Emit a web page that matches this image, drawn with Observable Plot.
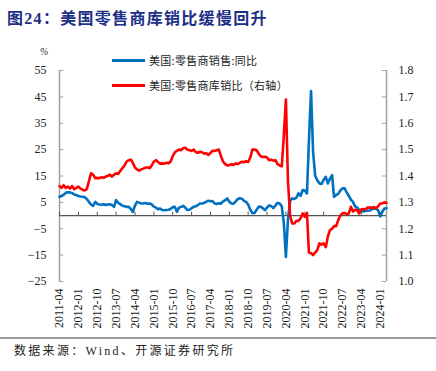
<!DOCTYPE html>
<html><head><meta charset="utf-8">
<script src="https://cdn.jsdelivr.net/npm/d3@7"></script>
<script src="https://cdn.jsdelivr.net/npm/@observablehq/plot@0.6"></script>
<style>
body{margin:0;background:#fff;}
#wrap{position:relative;width:436px;height:371px;overflow:hidden;font-family:"Noto Sans CJK SC",sans-serif;}
#title{position:absolute;left:7px;top:9px;line-height:20px;font-size:16px;font-weight:bold;color:#1c2f87;letter-spacing:1.3px;font-family:"Liberation Serif","Noto Sans CJK SC",serif;white-space:nowrap;}
#chart{position:absolute;left:0;top:30px;}
#rule{position:absolute;left:0;top:337px;width:436px;height:2px;background:#9a9a9a;}
#source{position:absolute;left:14px;top:343px;line-height:16px;font-size:12px;color:#222;letter-spacing:2.3px;font-family:"Liberation Serif","Noto Sans CJK SC",serif;white-space:nowrap;}
.leg{position:absolute;left:112px;height:16px;font-size:11px;line-height:16px;color:#222;display:flex;align-items:center;white-space:nowrap;letter-spacing:0.3px;}
.leg .sw{display:inline-block;width:33px;height:3px;margin-right:4px;}
#unit{position:absolute;left:40px;top:46px;font-size:10px;font-style:italic;color:#333;font-family:"Liberation Serif",serif;}
</style>
</head><body>
<div id="wrap">
  <div id="title">图24：美国零售商库销比缓慢回升</div>
  <div id="chart"></div>
  <div id="unit">%</div>
  <div class="leg" style="top:52px"><span class="sw" style="background:#0070C0"></span><span id="leg1"></span></div>
  <div class="leg" style="top:77px"><span class="sw" style="background:#FF0000"></span><span id="leg2"></span></div>
  <div id="rule"></div>
  <div id="source">数据来源：Wind、开源证券研究所</div>
</div>
<script>
// ---- data (monthly, starting 2011-04) ----
const startMonth = "2011-04";
const seriesNames = ["美国:零售商销售:同比", "美国:零售商库销比（右轴）"];

// 美国:零售商销售:同比 (%)
const salesYoY2011 = [7.1, 7.4, 7.9, 8.6, 8.8, 8.8, 8.5, 8.0, 7.8];
const salesYoY2012 = [7.4, 7.2, 7.1, 7.0, 6.3, 5.2, 4.2, 3.7, 5.2, 4.4, 4.2, 4.1];
const salesYoY2013 = [4.3, 4.0, 4.2, 4.3, 4.0, 3.3, 5.9, 4.8, 4.3, 3.7, 3.5, 3.3];
const salesYoY2014 = [3.3, 2.4, 1.4, 3.8, 5.2, 4.9, 4.6, 4.6, 4.8, 4.5, 4.6, 4.2];
const salesYoY2015 = [3.4, 3.0, 2.4, 2.7, 2.1, 2.0, 2.1, 2.2, 2.5, 3.2, 3.3, 1.4];
const salesYoY2016 = [3.0, 3.3, 3.7, 3.0, 2.1, 2.2, 2.8, 3.3, 3.5, 4.0, 4.6, 4.6];
const salesYoY2017 = [4.8, 5.3, 5.6, 5.4, 5.5, 4.6, 4.4, 4.7, 4.5, 5.4, 5.8, 6.5];
const salesYoY2018 = [5.2, 4.6, 4.5, 5.3, 6.2, 6.6, 6.4, 5.6, 5.2, 4.2, 2.2, 0.9];
const salesYoY2019 = [1.0, 2.2, 3.3, 3.4, 2.8, 2.1, 3.0, 3.8, 3.6, 2.8, 3.8, 4.8];
const salesYoY2020 = [4.6, 3.5, -2.5, -15.7, -1.5, 5.5, 6.5, 6.3, 6.8, 8.4, 7.5, 9.7];
const salesYoY2021 = [9.5, 8.4, 28.0, 47.2, 24.0, 15.0, 13.4, 12.2, 12.0, 13.5, 14.7, 12.2];
const salesYoY2022 = [14.0, 15.3, 7.1, 7.8, 8.2, 9.5, 10.3, 10.3, 8.8, 7.5, 6.0, 5.2];
const salesYoY2023 = [3.5, 3.0, 2.1, 2.0, 1.5, 1.8, 1.8, 1.9, 2.4, 2.7, 2.6, 2.0];
const salesYoY2024 = [-0.3, 1.5, 2.7, 2.8];

// 美国:零售商库销比 (right axis)
const isRatio2011 = [1.362, 1.355, 1.365, 1.355, 1.36, 1.352, 1.362, 1.35, 1.355];
const isRatio2012 = [1.36, 1.352, 1.348, 1.345, 1.35, 1.38, 1.41, 1.405, 1.392, 1.393, 1.392, 1.395];
const isRatio2013 = [1.393, 1.398, 1.40, 1.405, 1.398, 1.405, 1.41, 1.408, 1.42, 1.43, 1.44, 1.455];
const isRatio2014 = [1.46, 1.462, 1.45, 1.432, 1.425, 1.42, 1.425, 1.428, 1.432, 1.432, 1.43, 1.44];
const isRatio2015 = [1.455, 1.46, 1.453, 1.447, 1.448, 1.447, 1.45, 1.448, 1.455, 1.475, 1.49, 1.495];
const isRatio2016 = [1.50, 1.498, 1.505, 1.507, 1.50, 1.498, 1.495, 1.50, 1.49, 1.488, 1.492, 1.49];
const isRatio2017 = [1.485, 1.486, 1.48, 1.487, 1.496, 1.495, 1.498, 1.50, 1.475, 1.455, 1.445, 1.44];
const isRatio2018 = [1.441, 1.445, 1.442, 1.448, 1.445, 1.45, 1.454, 1.452, 1.456, 1.453, 1.47, 1.50];
const isRatio2019 = [1.50, 1.498, 1.485, 1.475, 1.472, 1.473, 1.47, 1.46, 1.462, 1.458, 1.46, 1.445];
const isRatio2020 = [1.44, 1.437, 1.55, 1.69, 1.38, 1.25, 1.22, 1.22, 1.23, 1.23, 1.24, 1.258];
const isRatio2021 = [1.245, 1.26, 1.11, 1.107, 1.10, 1.11, 1.12, 1.145, 1.14, 1.145, 1.13, 1.17];
const isRatio2022 = [1.195, 1.20, 1.21, 1.21, 1.233, 1.25, 1.258, 1.26, 1.255, 1.258, 1.283, 1.265];
const isRatio2023 = [1.272, 1.27, 1.258, 1.274, 1.275, 1.274, 1.28, 1.28, 1.28, 1.282, 1.277, 1.285];
const isRatio2024 = [1.296, 1.296, 1.30, 1.298];

// tick labels
const xTickLabels = ["2011-04","2012-01","2012-10","2013-07","2014-04","2015-01","2015-10","2016-07","2017-04","2018-01","2018-10","2019-07","2020-04","2021-01","2021-10","2022-07","2023-04","2024-01"];
const leftTicks = [-25, -15, -5, 5, 15, 25, 35, 45, 55];
const rightTicks = ["1.0", "1.1", "1.2", "1.3", "1.4", "1.5", "1.6", "1.7", "1.8"];
const rightMin = 1.0, rightMax = 1.8;

// ---- build table ----
const salesYoY = [].concat(salesYoY2011, salesYoY2012, salesYoY2013, salesYoY2014, salesYoY2015, salesYoY2016, salesYoY2017, salesYoY2018, salesYoY2019, salesYoY2020, salesYoY2021, salesYoY2022, salesYoY2023, salesYoY2024);
const isRatio = [].concat(isRatio2011, isRatio2012, isRatio2013, isRatio2014, isRatio2015, isRatio2016, isRatio2017, isRatio2018, isRatio2019, isRatio2020, isRatio2021, isRatio2022, isRatio2023, isRatio2024);
const start = new Date(startMonth + "-01T00:00:00Z");
const rows = salesYoY.map((v, i) => ({date: d3.utcMonth.offset(start, i), yoy: v, ratio: isRatio[i]}));
const end = rows[rows.length - 1].date;

const yMin = leftTicks[0], yMax = leftTicks[leftTicks.length - 1];
const toLeft = r => yMin + (r - rightMin) / (rightMax - rightMin) * (yMax - yMin);
const rightLabelOf = new Map(leftTicks.map((t, i) => [t, rightTicks[i]]));
const xTicks = xTickLabels.map(s => new Date(s + "-01T00:00:00Z"));

document.getElementById("leg1").textContent = seriesNames[0];
document.getElementById("leg2").textContent = seriesNames[1];

const axisGray = "#a0a0a0";
const chart = Plot.plot({
  width: 436, height: 308,
  marginLeft: 59, marginRight: 50, marginTop: 40, marginBottom: 57,
  x: {type: "utc", domain: [start, end]},
  y: {domain: [yMin, yMax]},
  style: {fontFamily: "'Liberation Serif', serif", fontSize: "12px", color: "#222", background: "transparent", overflow: "visible"},
  marks: [
    Plot.axisY({ticks: leftTicks, anchor: "left", tickSize: 0, tickPadding: 13, label: null, fontSize: 12}),
    Plot.axisY({ticks: leftTicks, anchor: "right", tickSize: 0, tickPadding: 12, label: null, fontSize: 12, tickFormat: t => rightLabelOf.get(t)}),
    Plot.axisX({ticks: xTicks, anchor: "bottom", tickSize: 0, tickPadding: 7, tickRotate: -90, label: null, fontSize: 12, tickFormat: d3.utcFormat("%Y-%m")}),
    Plot.ruleX([start], {stroke: axisGray, strokeWidth: 1.5}),
    Plot.ruleX([end], {stroke: axisGray, strokeWidth: 1.5}),
    Plot.ruleY(leftTicks, {y: d => d, x1: start, x2: d3.utcMonth.offset(start, 2), stroke: axisGray}),
    Plot.ruleY(leftTicks, {y: d => d, x1: d3.utcMonth.offset(end, -2), x2: end, stroke: axisGray}),
    Plot.ruleY([0], {x1: start, x2: end, stroke: "#555", strokeWidth: 1.3}),
    Plot.ruleX(xTicks, {x: d => d, y1: 0, y2: 1.3, stroke: "#555"}),
    Plot.line(rows, {x: "date", y: "yoy", stroke: "#0070C0", strokeWidth: 2.6}),
    Plot.line(rows, {x: "date", y: d => toLeft(d.ratio), stroke: "#FF0000", strokeWidth: 2.6})
  ]
});
document.getElementById("chart").appendChild(chart);
</script>
</body></html>
